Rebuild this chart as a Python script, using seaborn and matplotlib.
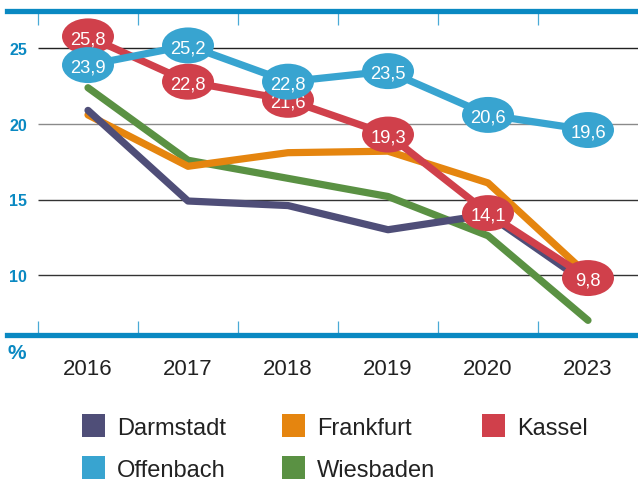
import matplotlib
matplotlib.use("Agg")
import matplotlib.pyplot as plt
import matplotlib.transforms as mtransforms
from matplotlib.patches import Ellipse, Rectangle
import pandas as pd
import seaborn as sns

years = ["2016", "2017", "2018", "2019", "2020", "2023"]
darmstadt = [20.9, 14.9, 14.6, 13.0, 14.0, 9.4]
frankfurt = [20.6, 17.2, 18.1, 18.2, 16.1, 10.0]
kassel = [25.8, 22.8, 21.6, 19.3, 14.1, 9.8]
offenbach = [23.9, 25.2, 22.8, 23.5, 20.6, 19.6]
wiesbaden = [22.4, 17.6, 16.4, 15.2, 12.6, 7.0]
y_ticks = [10, 15, 20, 25]

colors = {
    "Darmstadt": "#4f4e78",
    "Frankfurt": "#e5850f",
    "Kassel": "#d0404b",
    "Offenbach": "#38a4d0",
    "Wiesbaden": "#5a9143",
}
series = {
    "Darmstadt": darmstadt,
    "Frankfurt": frankfurt,
    "Kassel": kassel,
    "Offenbach": offenbach,
    "Wiesbaden": wiesbaden,
}

rows = []
for city, vals in series.items():
    for i, v in enumerate(vals):
        rows.append({"city": city, "pos": i, "year": years[i], "value": v})
df = pd.DataFrame(rows)

sns.set_theme(style="white")
plt.rcParams["font.family"] = ["Liberation Sans", "DejaVu Sans"]

W, H = 638, 481
fig = plt.figure(figsize=(W / 100, H / 100), dpi=100)
ax = fig.add_axes([7 / W, 145 / H, 631 / W, (469.3 - 145) / H])
ax.set_xlim(-0.81, 5.5)
ax.set_ylim(6.03, 27.5)

blue = "#0a89c2"
for side in ["left", "right"]:
    ax.spines[side].set_visible(False)
for side in ["top", "bottom"]:
    ax.spines[side].set_color(blue)
    ax.spines[side].set_linewidth(3.8)
    ax.spines[side].set_zorder(10)

# horizontal reference lines
grid_colors = {10: "#333333", 15: "#333333", 20: "#8a8a8a", 25: "#222222"}
for t in y_ticks:
    ax.hlines(t, -0.5, 5.5, color=grid_colors[t], linewidth=1.0, zorder=1)

# category separators on both bars
ax.set_xticks([])
ax.set_yticks([])
ax.set_xticks([i - 0.5 for i in range(6)], minor=True)
ax.tick_params(axis="x", which="minor", direction="in", length=10, width=0.9,
               color="#4aaad6", top=True, bottom=True)

# lines, back to front
order = [("Wiesbaden", 2), ("Frankfurt", 3), ("Darmstadt", 4), ("Kassel", 5), ("Offenbach", 7)]
for city, z in order:
    sub = df[df["city"] == city]
    sns.lineplot(data=sub, x="pos", y="value", color=colors[city], linewidth=5.2,
                 sort=False, ax=ax, zorder=z, legend=False,
                 solid_capstyle="round", solid_joinstyle="round")
ax.set_xlabel("")
ax.set_ylabel("")

# value bubbles
ew, eh = 0.52, 36 / 15.12
for city, z in [("Kassel", 6), ("Offenbach", 8)]:
    for i, v in enumerate(series[city]):
        ax.add_patch(Ellipse((i, v), ew, eh, facecolor=colors[city],
                             edgecolor="none", zorder=z))
        ax.text(i, v - 0.44, f"{v:.1f}".replace(".", ","), ha="center",
                va="baseline", color="white", fontsize=13.2,
                zorder=z + 0.5)

# y labels and unit
ytrans = mtransforms.blended_transform_factory(fig.transFigure, ax.transData)
for t in y_ticks:
    ax.text(27 / W, t - 0.377, str(t), transform=ytrans, ha="right",
            va="baseline", color=blue, fontsize=11.6, fontweight="bold")
fig.text(8 / W, (H - 359) / H, "%", ha="left", va="baseline", color=blue,
         fontsize=15, fontweight="bold")

# year labels
xtrans = mtransforms.blended_transform_factory(ax.transData, fig.transFigure)
for i, y in enumerate(years):
    ax.text(i, (H - 375) / H, y, transform=xtrans, ha="center", va="baseline",
            color="#222222", fontsize=16, clip_on=False)

# legend
legend_items = [
    ("Darmstadt", 81.7, 415), ("Frankfurt", 281.7, 415), ("Kassel", 481.7, 415),
    ("Offenbach", 81.7, 457), ("Wiesbaden", 281.7, 457),
]
sq = 23
for city, lx, ty in legend_items:
    fig.add_artist(Rectangle((lx / W, (H - ty - sq) / H), sq / W, sq / H,
                             transform=fig.transFigure, facecolor=colors[city],
                             edgecolor="none"))
    fig.text((lx + 35) / W, (H - (ty + sq / 2 + 8.4)) / H, city, ha="left",
             va="baseline", color="#222222", fontsize=17)

fig.savefig("out.png", dpi=100)
